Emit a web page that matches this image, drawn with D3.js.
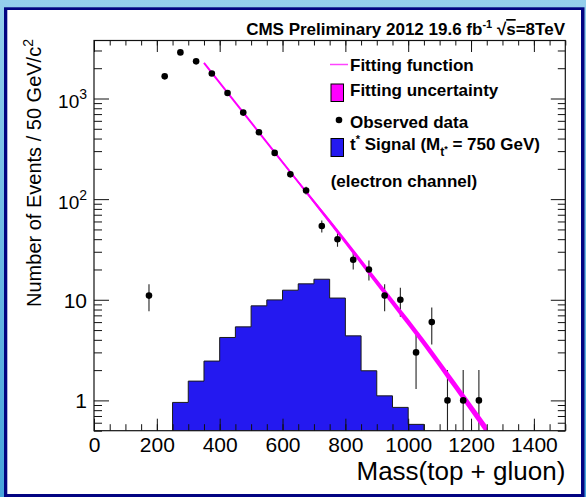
<!DOCTYPE html>
<html>
<head>
<meta charset="utf-8">
<script src="https://cdn.jsdelivr.net/npm/d3@7"></script>
<style>
  html, body { margin: 0; padding: 0; background: #fff; }
  svg { display: block; }
  text { font-family: "Liberation Sans", Arial, Helvetica, sans-serif; fill: #000; }
</style>
</head>
<body>
<svg id="chart" width="586" height="497"></svg>
<script>
// Observed data: bin centres (GeV), event counts and their uncertainties
const massCenters = [175, 225, 275, 325, 375, 425, 475, 525, 575, 625, 675,
                     725, 775, 825, 875, 925, 975, 1025, 1075, 1125, 1175, 1225];
const observed    = [11, 1660, 2870, 2340, 1770, 1135, 724, 462, 288, 177, 122,
                     54, 40, 25, 20, 11, 10, 3, 6, 1, 1, 1];
const observedErr = [3.3, 40.7, 53.6, 48.4, 42.1, 33.7, 26.9, 21.5, 17.0, 13.3, 11.0,
                     7.3, 6.3, 5.0, 4.5, 3.3, 3.2, 1.7, 2.4, 1.0, 1.0, 1.0];

// t* signal histogram (M = 750 GeV), 50 GeV bins
const signalEdges = [250, 300, 350, 400, 450, 500, 550, 600, 650, 700, 750,
                     800, 850, 900, 950, 1000, 1050];
const signal      = [0.955, 1.555, 2.46, 4.22, 5.38, 8.70, 9.97, 12.45, 14.4, 16.0,
                     10.4, 4.38, 1.97, 1.11, 0.852, 0.578];

// Background fit function sampled along the mass axis, with its relative uncertainty
const fitMass   = [350, 450, 550, 650, 750, 850, 950, 1050, 1150, 1250];
const fitValue  = [2254, 910, 367, 148, 60, 23.9, 9.5, 3.76, 1.40, 0.513];
const fitRelUnc = [0.010, 0.012, 0.016, 0.028, 0.050, 0.065, 0.075, 0.085, 0.095, 0.105];

// Axis ranges and ticks
const xDomain = [0, 1500];
const yDomain = [0.5, 3770];
const xMajorTicks = [0, 200, 400, 600, 800, 1000, 1200, 1400];
const xMinorTicks = d3.range(0, 1501, 50);
const yLabels = {1: ["1", ""], 10: ["10", ""], 100: ["10", "2"], 1000: ["10", "3"]};

const W = 586, H = 497;
const plot = {left: 94, right: 565.3, top: 40.5, bottom: 430.7};

const svg = d3.select("#chart");

// Canvas frame: light-blue surround, navy border, white panel
const defs = svg.append("defs");
const grad = defs.append("linearGradient").attr("id", "bgGrad")
  .attr("x1", 0).attr("y1", 0).attr("x2", 0).attr("y2", 1);
grad.append("stop").attr("offset", "0%").attr("stop-color", "#95cfec");
grad.append("stop").attr("offset", "100%").attr("stop-color", "#46a4db");
svg.append("rect").attr("width", W).attr("height", H).attr("fill", "url(#bgGrad)");
svg.append("rect").attr("x", 4).attr("y", 7.3).attr("width", 580.5).attr("height", 495)
  .attr("fill", "#020482");
svg.append("rect").attr("x", 7.3).attr("y", 10).attr("width", 573.7).attr("height", 484)
  .attr("fill", "#fff");

defs.append("clipPath").attr("id", "plotClip").append("rect")
  .attr("x", plot.left).attr("y", plot.top)
  .attr("width", plot.right - plot.left).attr("height", plot.bottom - plot.top);

const x = d3.scaleLinear().domain(xDomain).range([plot.left, plot.right]);
const y = d3.scaleLog().domain(yDomain).range([plot.bottom, plot.top]);

const gPlot = svg.append("g").attr("clip-path", "url(#plotClip)");

// Signal histogram
const stepData = signalEdges.map((e, i) => ({m: e, v: signal[Math.min(i, signal.length - 1)]}));
gPlot.append("path")
  .datum(stepData)
  .attr("fill", "#2419f0")
  .attr("d", d3.area().curve(d3.curveStepAfter)
    .x(d => x(d.m)).y0(plot.bottom).y1(d => y(d.v)));
const outline = [{m: signalEdges[0], v: yDomain[0]}, ...stepData,
                 {m: signalEdges[signalEdges.length - 1], v: yDomain[0]}];
gPlot.append("path")
  .datum(outline)
  .attr("fill", "none").attr("stroke", "#1a1a1a").attr("stroke-width", 1)
  .attr("d", d3.line().curve(d3.curveStepAfter).x(d => x(d.m)).y(d => y(d.v)));

// Axes (ticks point into the plot)
function styleAxis(g) {
  g.select(".domain").remove();
  g.selectAll(".tick line").attr("stroke", "#111").attr("stroke-width", 1);
}
svg.append("g").attr("transform", `translate(0,${plot.bottom})`)
  .call(d3.axisBottom(x).tickValues(xMinorTicks).tickSize(-6.5).tickFormat(""))
  .call(styleAxis);
const xAxisG = svg.append("g").attr("transform", `translate(0,${plot.bottom})`)
  .call(d3.axisBottom(x).tickValues(xMajorTicks).tickSize(-12).tickPadding(6).tickFormat(d3.format("d")))
  .call(styleAxis);
xAxisG.selectAll(".tick text")
  .attr("font-size", 21).attr("font-family", '"Liberation Sans", Arial, sans-serif').attr("fill", "#000");
svg.append("g").attr("transform", `translate(0,${plot.top})`)
  .call(d3.axisTop(x).tickValues(xMinorTicks).tickSize(-5).tickFormat(""))
  .call(styleAxis);
svg.append("g").attr("transform", `translate(0,${plot.top})`)
  .call(d3.axisTop(x).tickValues(xMajorTicks).tickSize(-11.5).tickFormat(""))
  .call(styleAxis);

const yAll = y.ticks();
const yMajor = yAll.filter(v => Math.abs(Math.log10(v) - Math.round(Math.log10(v))) < 1e-9);
const yMinor = yAll.filter(v => !yMajor.includes(v));
svg.append("g").attr("transform", `translate(${plot.left},0)`)
  .call(d3.axisLeft(y).tickValues(yMinor).tickSize(-8).tickFormat(""))
  .call(styleAxis);
const yAxisG = svg.append("g").attr("transform", `translate(${plot.left},0)`)
  .call(d3.axisLeft(y).tickValues(yMajor).tickSize(-15).tickPadding(7).tickFormat(""))
  .call(styleAxis);
yAxisG.selectAll(".tick text").each(function(d) {
  const lab = yLabels[d];
  const t = d3.select(this).text(null)
    .attr("font-size", 21).attr("fill", "#000")
    .attr("font-family", '"Liberation Sans", Arial, sans-serif');
  if (lab[1]) {
    t.attr("dy", "0.45em");
    t.append("tspan").text(lab[0]).attr("font-size", 19);
    t.append("tspan").text(lab[1]).attr("font-size", 14).attr("dy", -9);
  } else {
    t.attr("dy", "0.36em");
    t.append("tspan").text(lab[0]);
  }
});
svg.append("g").attr("transform", `translate(${plot.right},0)`)
  .call(d3.axisRight(y).tickValues(yMinor).tickSize(-7.5).tickFormat(""))
  .call(styleAxis);
svg.append("g").attr("transform", `translate(${plot.right},0)`)
  .call(d3.axisRight(y).tickValues(yMajor).tickSize(-14.5).tickFormat(""))
  .call(styleAxis);

// Frame
svg.append("rect")
  .attr("x", plot.left).attr("y", plot.top)
  .attr("width", plot.right - plot.left).attr("height", plot.bottom - plot.top)
  .attr("fill", "none").attr("stroke", "#111").attr("stroke-width", 1.2);

// Observed data: error bars
const obs = massCenters.map((m, i) => ({m, v: observed[i], e: observedErr[i]}));
gPlot.selectAll("line.err").data(obs).enter().append("line")
  .attr("class", "err")
  .attr("x1", d => x(d.m)).attr("x2", d => x(d.m))
  .attr("y1", d => y(d.v + d.e))
  .attr("y2", d => (d.v - d.e) > yDomain[0] ? y(d.v - d.e) : plot.bottom)
  .attr("stroke", "#222").attr("stroke-width", 1.1);

// Fit uncertainty band and fit function
const fit = fitMass.map((m, i) => ({m, v: fitValue[i], u: fitRelUnc[i]}));
gPlot.append("path").datum(fit)
  .attr("fill", "#ff00ff")
  .attr("d", d3.area().curve(d3.curveMonotoneX)
    .x(d => x(d.m)).y0(d => y(d.v * (1 - d.u))).y1(d => y(d.v * (1 + d.u))));
gPlot.append("path").datum(fit)
  .attr("fill", "none").attr("stroke", "#ff00ff").attr("stroke-width", 2)
  .attr("d", d3.line().curve(d3.curveMonotoneX).x(d => x(d.m)).y(d => y(d.v)));

// Observed data: markers
gPlot.selectAll("circle.obs").data(obs).enter().append("circle")
  .attr("class", "obs")
  .attr("cx", d => x(d.m)).attr("cy", d => y(d.v)).attr("r", 3.3)
  .attr("fill", "#000");

// Title
const title = svg.append("text").attr("x", 565).attr("y", 35)
  .attr("text-anchor", "end").attr("font-size", 17).attr("font-weight", "bold");
title.append("tspan").text("CMS Preliminary 2012 19.6 fb");
title.append("tspan").text("-1").attr("font-size", 11).attr("dy", -7);
title.append("tspan").text(" \u221A").attr("dy", 7);
title.append("tspan").text("s").style("text-decoration", "overline");
title.append("tspan").text("=8TeV");

// Legend
const lg = svg.append("g").attr("font-size", 17).attr("font-weight", "bold");
lg.append("line").attr("x1", 330).attr("x2", 348).attr("y1", 64.5).attr("y2", 64.5)
  .attr("stroke", "#ff44ff").attr("stroke-width", 1.5);
lg.append("text").attr("x", 350).attr("y", 71).text("Fitting function");
lg.append("rect").attr("x", 331).attr("y", 84).attr("width", 12.5).attr("height", 17.5)
  .attr("fill", "#ff00ff").attr("stroke", "#000").attr("stroke-width", 1);
lg.append("text").attr("x", 350).attr("y", 96).text("Fitting uncertainty");
lg.append("circle").attr("cx", 339).attr("cy", 120).attr("r", 3.3).attr("fill", "#000");
lg.append("text").attr("x", 350).attr("y", 128).text("Observed data");
lg.append("rect").attr("x", 331).attr("y", 138.5).attr("width", 12.5).attr("height", 18)
  .attr("fill", "#2419f0").attr("stroke", "#000").attr("stroke-width", 1);
const sig = lg.append("text").attr("x", 350).attr("y", 150);
sig.append("tspan").text("t");
sig.append("tspan").text("*").attr("font-size", 11).attr("dy", -7);
sig.append("tspan").text(" Signal (M").attr("dy", 7);
sig.append("tspan").text("t").attr("font-size", 12).attr("dy", 6);
sig.append("tspan").text("*").attr("font-size", 9).attr("dy", -4);
sig.append("tspan").text(" = 750 GeV)").attr("dy", -2);
lg.append("text").attr("x", 330.7).attr("y", 187).text("(electron channel)");

// Axis titles
svg.append("text").attr("x", 565.3).attr("y", 479.5).attr("text-anchor", "end")
  .attr("font-size", 26).text("Mass(top + gluon)");
const yt = svg.append("text")
  .attr("transform", "translate(40.5,173) rotate(-90)")
  .attr("text-anchor", "middle").attr("font-size", 20);
yt.append("tspan").text("Number of Events / 50 GeV/c");
yt.append("tspan").text("2").attr("font-size", 14).attr("dy", -8);
</script>
</body>
</html>
